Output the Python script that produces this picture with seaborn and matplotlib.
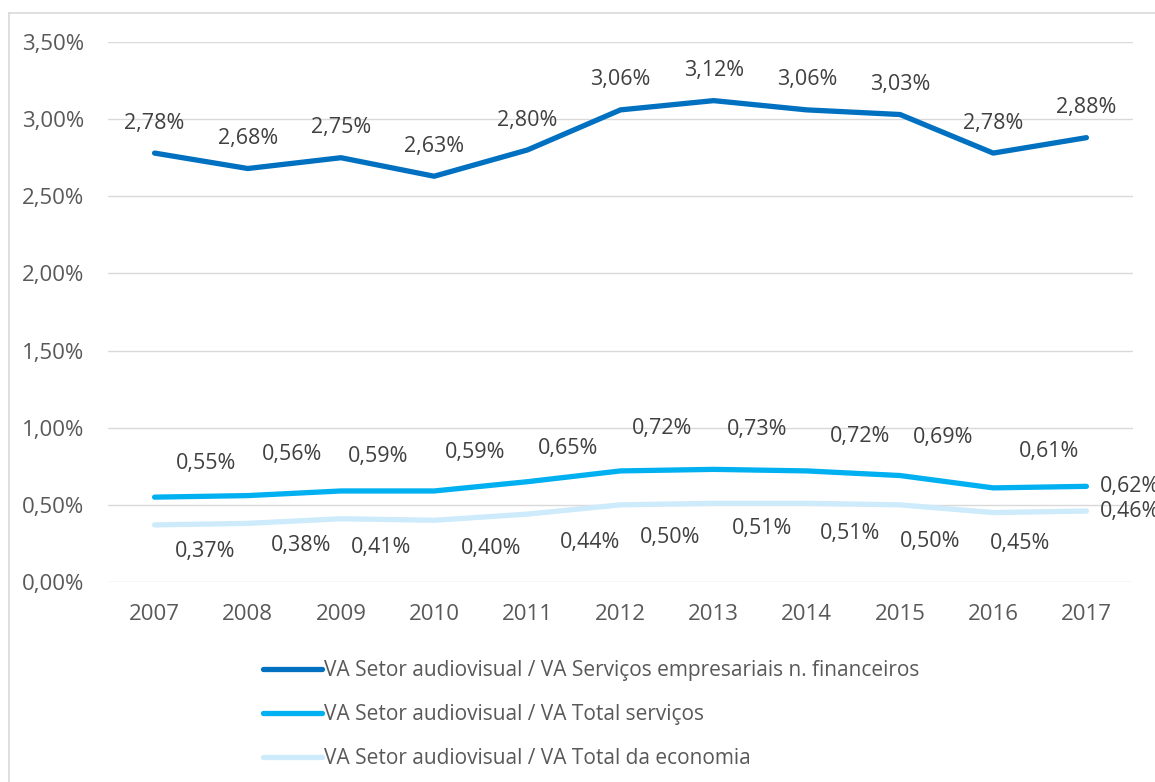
import pandas as pd
import numpy as np
import matplotlib
matplotlib.use("Agg")
import matplotlib.pyplot as plt
import seaborn as sns

# data
anos = ["2007", "2008", "2009", "2010", "2011", "2012", "2013", "2014", "2015", "2016", "2017"]
va_emp = [2.78, 2.68, 2.75, 2.63, 2.80, 3.06, 3.12, 3.06, 3.03, 2.78, 2.88]
va_serv = [0.55, 0.56, 0.59, 0.59, 0.65, 0.72, 0.73, 0.72, 0.69, 0.61, 0.62]
va_econ = [0.37, 0.38, 0.41, 0.40, 0.44, 0.50, 0.51, 0.51, 0.50, 0.45, 0.46]
series = ["VA Setor audiovisual / VA Serviços empresariais n. financeiros",
          "VA Setor audiovisual / VA Total serviços",
          "VA Setor audiovisual / VA Total da economia"]
cores = ["#0070C0", "#00B0F0", "#CDEBFB"]

# label offsets in pixels (Excel places them a bit irregularly)
off_emp = [(0, 30)] * 11
off_serv = [(51, 34), (44, 41), (37, 34), (41, 38), (41, 33), (42, 42),
            (43, 40), (53, 34), (43, 38), (56, 36), (13, 0)]
off_econ = [(51, -27), (53, -22), (40, -29), (57, -28), (63, -28), (50, -33),
            (48, -25), (43, -30), (30, -37), (27, -31), (13, 0)]

df = pd.DataFrame({"ano": anos * 3,
                   "valor": va_emp + va_serv + va_econ,
                   "serie": [series[0]] * 11 + [series[1]] * 11 + [series[2]] * 11})

plt.rcParams["font.family"] = ["Open Sans", "DejaVu Sans"]
fig = plt.figure(figsize=(11.55, 7.82), dpi=100)
ax = fig.add_axes([108 / 1155, 1 - 582 / 782, 1025 / 1155, 540 / 782])

sns.lineplot(data=df, x="ano", y="valor", hue="serie", palette=cores,
             hue_order=series, linewidth=3.8, ax=ax, legend=False, sort=False)
for ln in ax.get_lines():
    ln.set_solid_capstyle("round")
    ln.set_solid_joinstyle("round")

ax.set_xlim(-0.5, 10.5)
ax.set_ylim(0, 3.5)
ax.set_yticks(np.arange(0, 3.51, 0.5))
ax.set_yticklabels([f"{v:.2f}%".replace(".", ",") for v in np.arange(0, 3.51, 0.5)])
ax.set_xlabel("")
ax.set_ylabel("")
ax.grid(axis="y", color="#D9D9D9", linewidth=1)
ax.set_axisbelow(True)
for s in ax.spines.values():
    s.set_visible(False)
ax.tick_params(length=0, labelsize=16, colors="#595959")
ax.tick_params(axis="y", pad=17)
ax.tick_params(axis="x", pad=16)

txt = "#404040"
for vals, offs in [(va_emp, off_emp), (va_serv, off_serv), (va_econ, off_econ)]:
    for i, (v, (dx, dy)) in enumerate(zip(vals, offs)):
        ha = "left" if i == 10 and dy == 0 else "center"
        ax.annotate(f"{v:.2f}%".replace(".", ","), (i, v), xytext=(dx, dy),
                    textcoords="offset pixels", ha=ha, va="center",
                    fontsize=15.5, color=txt, annotation_clip=False)

from matplotlib.lines import Line2D
handles = [Line2D([0], [0], color=c, lw=3.8, solid_capstyle="round") for c in cores]
fig.legend(handles, series, loc="upper left", bbox_to_anchor=(253 / 1155, 1 - 650 / 782),
           frameon=False, fontsize=15, handlelength=2.8, handletextpad=0.1,
           labelspacing=1.1, borderpad=0, labelcolor="#595959")

# chart border
fig.add_artist(Line2D([9 / 1155, 9 / 1155], [0, 1 - 13 / 782], color="#D9D9D9", lw=1.2, transform=fig.transFigure))
fig.add_artist(Line2D([9 / 1155, 1], [1 - 13 / 782, 1 - 13 / 782], color="#D9D9D9", lw=1.2, transform=fig.transFigure))

fig.savefig("out.png", dpi=100)
